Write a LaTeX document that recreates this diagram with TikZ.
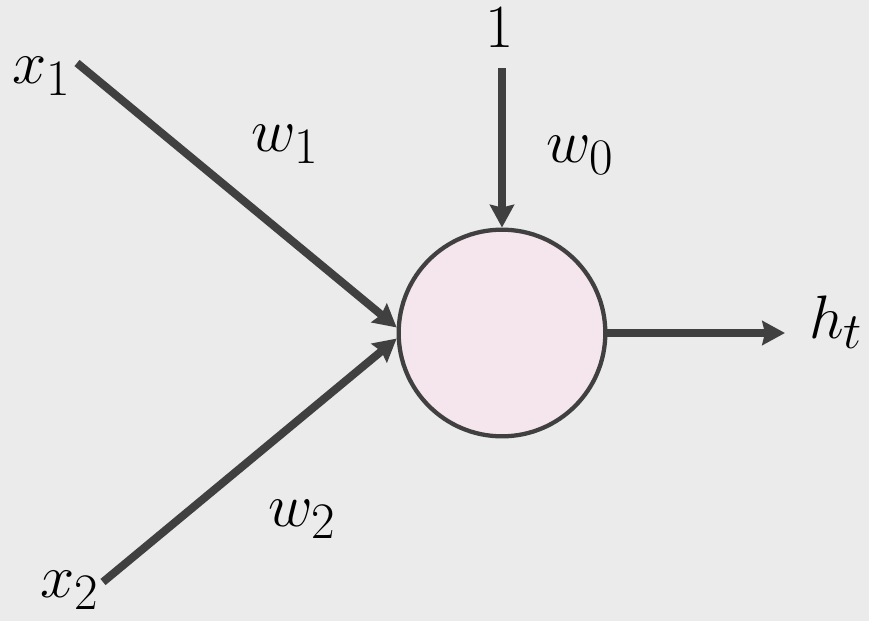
\documentclass[tikz,border=0pt]{standalone}
\usepackage{tikz}
\usetikzlibrary{arrows.meta,positioning}
\definecolor{bg}{HTML}{EBEBEB}
\definecolor{ink}{HTML}{404040}
\definecolor{cellpink}{HTML}{F4E6EC}

\begin{document}
\begin{tikzpicture}[
  x=0.75pt,y=-0.75pt,
  lbl/.style={inner sep=0pt,font=\Huge,scale=1.85},
  neuron/.style={circle,draw=ink,line width=3.2pt,fill=cellpink,minimum size=155pt,inner sep=0pt},
  arrow/.style={-{Stealth[length=17pt,width=18pt,inset=2pt]},line width=6pt,draw=ink}
]
\useasboundingbox[fill=bg] (0,0) rectangle (869,621);
\node[lbl] (x1) at (42,76) {$x_1$};
\node[lbl] (x2) at (70,590) {$x_2$};
\node[lbl] (one) at (500,28) {$1$};
\node[lbl] (ht) at (836,322) {$h_t$};
\node[lbl] (w1) at (285,144) {$w_1$};
\node[lbl] (w2) at (302,519) {$w_2$};
\node[lbl] (w0) at (580,155) {$w_0$};
\node[neuron] (cell) at (502,333) {};
\coordinate (x1s) at (77,63);
\coordinate (x2s) at (103,582);
\coordinate (ones) at (502,68);
\coordinate (outend) at (785,333);
\draw[arrow] (x1s) -- (cell.177);
\draw[arrow] (x2s) -- (cell.183);
\draw[arrow] (ones) -- (cell.north);
\draw[arrow] (cell.east) -- (outend);
\end{tikzpicture}
\end{document}
